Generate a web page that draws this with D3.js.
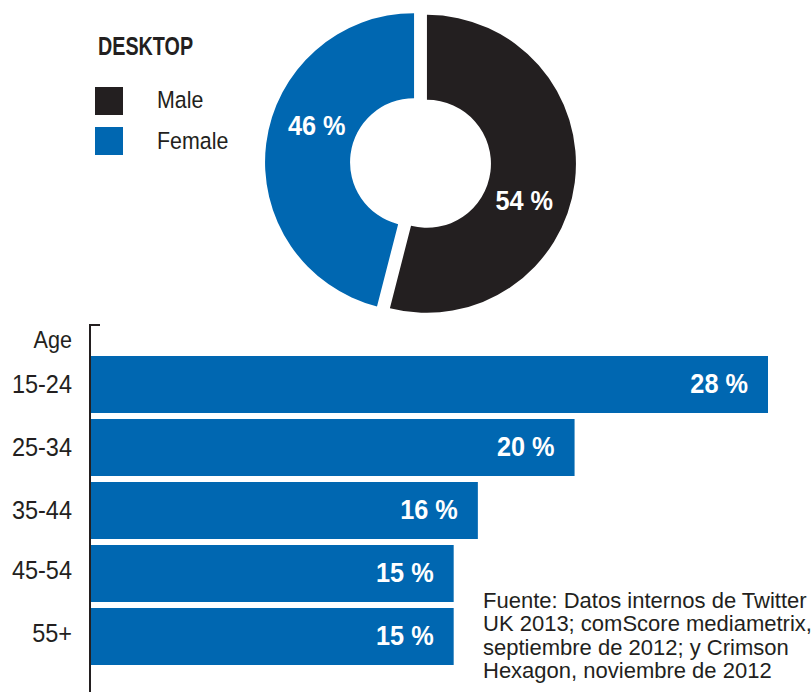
<!DOCTYPE html>
<html>
<head>
<meta charset="utf-8">
<script src="https://cdn.jsdelivr.net/npm/d3@7"></script>
<style>
  html, body { margin: 0; padding: 0; background: #fff; }
  svg { display: block; }
  text { font-family: "Liberation Sans", Arial, sans-serif; fill: #231f20; }
</style>
</head>
<body>
<svg id="chart" width="812" height="692"></svg>
<script>
// ---- data ----
const genderLabels = ["Male", "Female"];
const genderValues = [54, 46];
const ageCategories = ["15-24", "25-34", "35-44", "45-54", "55+"];
const ageValues = [28, 20, 16, 15, 15];
const title = "DESKTOP";
const ageTitle = "Age";
const sourceLines = [
  "Fuente: Datos internos de Twitter",
  "UK 2013; comScore mediametrix,",
  "septiembre de 2012; y Crimson",
  "Hexagon, noviembre de 2012"
];

const BLUE = "#0067b1", BLACK = "#231f20";
const colors = d3.scaleOrdinal().domain(genderLabels).range([BLACK, BLUE]);

const svg = d3.select("#chart");

// text helper: places text at (x,y) with a horizontal condensing factor
function label(parent, xp, yp, txt, size, sx, opts = {}) {
  const g = parent.append("g").attr("transform", `translate(${xp},${yp}) scale(${sx},1)`);
  const t = g.append("text").attr("x", 0).attr("y", 0)
    .style("font-size", size + "px").text(txt);
  if (opts.anchor) t.attr("text-anchor", opts.anchor);
  if (opts.dy) t.attr("dy", opts.dy);
  if (opts.bold) t.style("font-weight", "bold");
  if (opts.fill) t.style("fill", opts.fill);
  return t;
}

// ---- legend ----
label(svg, 98, 55, title, 25, 0.79, { bold: true });

const leg = svg.append("g");
genderLabels.forEach((g, i) => {
  leg.append("rect").attr("x", 95).attr("y", 87 + i * 40)
    .attr("width", 28).attr("height", 28).attr("fill", colors(g));
  label(leg, 157, 108 + i * 41, g, 23.5, 0.91);
});

// ---- donut ----
const cx = 420.5, cy = 163, rOuter = 149, rInner = 64, explode = 6.5;
const pie = d3.pie().sort(null).value(d => d)(genderValues);
const arc = d3.arc().innerRadius(rInner).outerRadius(rOuter);
const donut = svg.append("g").attr("transform", `translate(${cx},${cy})`);
const labelOffset = 13.5 * Math.PI / 180, labelR = 104;

pie.forEach((p, i) => {
  const mid = (p.startAngle + p.endAngle) / 2;
  const dx = Math.sin(mid) * explode, dy = -Math.cos(mid) * explode;
  const g = donut.append("g").attr("transform", `translate(${dx},${dy})`);
  g.append("path").attr("d", arc(p)).attr("fill", colors(genderLabels[i]));
  const la = mid + labelOffset;
  label(g, Math.sin(la) * labelR, -Math.cos(la) * labelR, genderValues[i] + " %", 27.5, 0.92,
    { anchor: "middle", dy: "0.36em", bold: true, fill: "#fff" });
});

// ---- bars ----
const x = d3.scaleLinear().domain([0, d3.max(ageValues)]).range([91, 768]);
const y = d3.scaleBand().domain(ageCategories).range([356, 665]).paddingInner(6 / 63).paddingOuter(0);

// axis line
svg.append("line").attr("x1", 90).attr("x2", 90).attr("y1", 324).attr("y2", 692)
  .attr("stroke", BLACK).attr("stroke-width", 2);
svg.append("line").attr("x1", 89).attr("x2", 100).attr("y1", 325).attr("y2", 325)
  .attr("stroke", BLACK).attr("stroke-width", 2);

label(svg, 72, 340, ageTitle, 23.5, 0.92, { anchor: "end", dy: "0.36em" });

const bars = svg.append("g");
ageCategories.forEach((c, i) => {
  bars.append("rect").attr("x", x(0)).attr("y", y(c))
    .attr("width", x(ageValues[i]) - x(0)).attr("height", y.bandwidth())
    .attr("fill", BLUE);
  label(bars, x(ageValues[i]) - 20, y(c) + y.bandwidth() / 2 - 1, ageValues[i] + " %", 27.5, 0.92,
    { anchor: "end", dy: "0.36em", bold: true, fill: "#fff" });
  label(bars, 72, y(c) + y.bandwidth() / 2 - 1 - (i >= 3 ? 3 : 0), c, 25, 0.94,
    { anchor: "end", dy: "0.36em" });
});

// ---- source ----
const src = svg.append("text").attr("x", 483).attr("y", 608).style("font-size", "22px");
sourceLines.forEach((l, i) => {
  src.append("tspan").attr("x", 483).attr("y", 608 + i * 23.4).text(l);
});
</script>
</body>
</html>
